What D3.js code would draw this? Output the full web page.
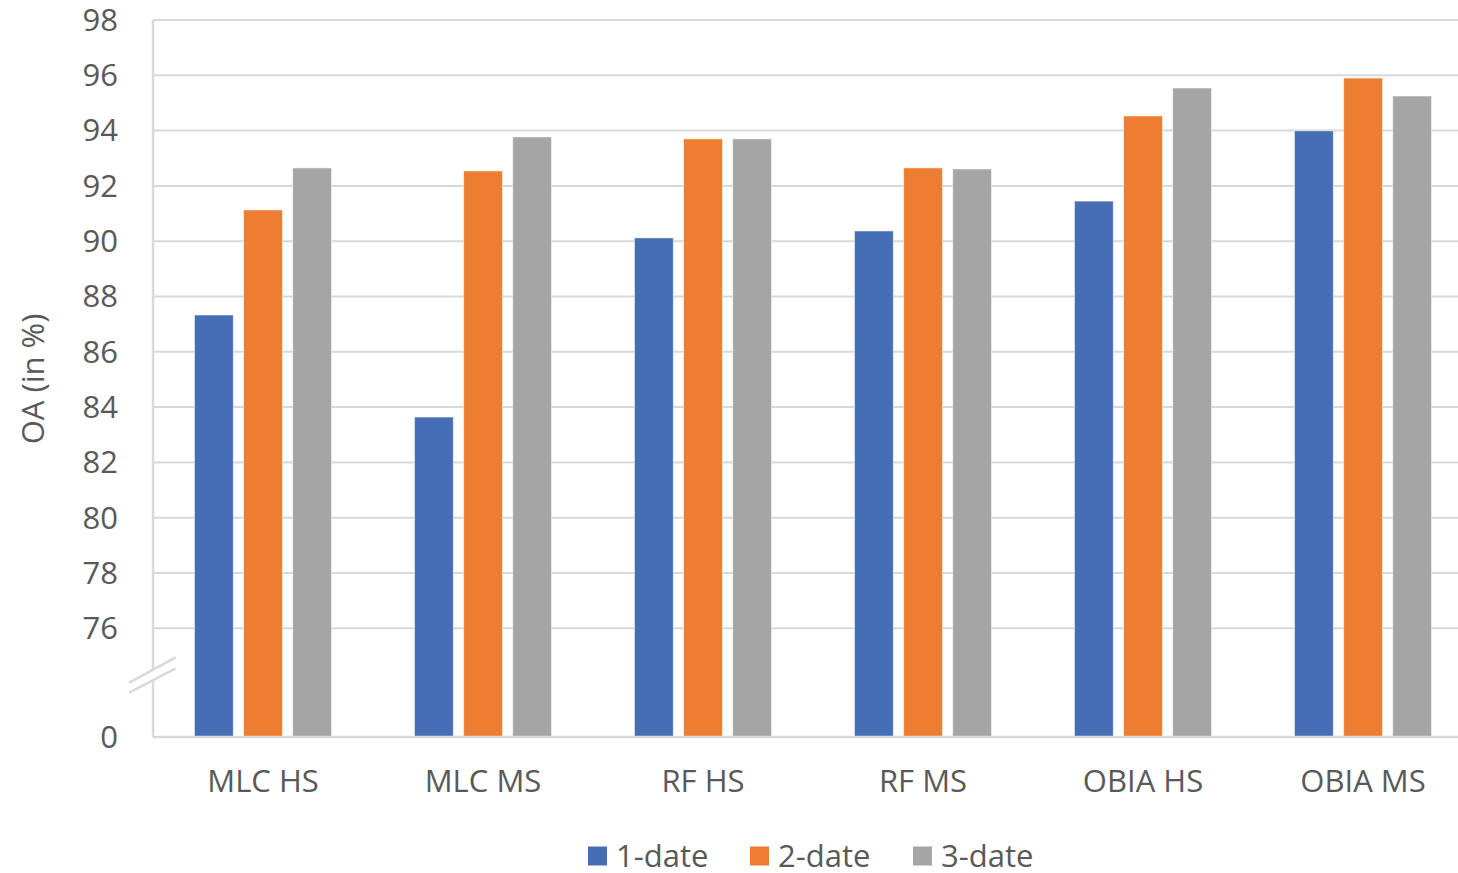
<!DOCTYPE html>
<html>
<head>
<meta charset="utf-8">
<script src="https://cdn.jsdelivr.net/npm/d3@7"></script>
<style>
  html, body { margin: 0; padding: 0; background: #fff; overflow: hidden; }
  svg { display: block; font-family: "Open Sans", sans-serif; }
</style>
</head>
<body>
<svg id="chart" width="1458" height="873"></svg>
<script>
// Overall accuracy per classifier / sensor combination
const categories = ["MLC HS", "MLC MS", "RF HS", "RF MS", "OBIA HS", "OBIA MS"];
const seriesNames = ["1-date", "2-date", "3-date"];
const oneDate   = [87.33, 83.64, 90.12, 90.37, 91.45, 93.99];
const twoDate   = [91.13, 92.54, 93.70, 92.65, 94.53, 95.90];
const threeDate = [92.65, 93.77, 93.70, 92.61, 95.54, 95.25];
const colors = ["#466EB4", "#ED7D31", "#A5A5A5"];
const yTicks = [0, 76, 78, 80, 82, 84, 86, 88, 90, 92, 94, 96, 98];

const seriesValues = [oneDate, twoDate, threeDate];
const svg = d3.select("#chart");
const gridColor = "#d9d9d9";
const textColor = "#595959";
const fontSize = 31;

// Broken value axis: 0 sits just below the 76–98 segment
const y = d3.scaleLinear().domain([0, 76, 98]).range([737, 628.3, 20]);
const left = 153, bandW = 220;
const x0 = d3.scaleBand().domain(categories).range([left, left + bandW * categories.length]);
const x1 = d3.scaleBand().domain(seriesNames).range([41.5, 178.5]).paddingInner(0.21);

// Horizontal gridlines for the upper segment
svg.append("g")
  .selectAll("line")
  .data(yTicks.filter(t => t > 0))
  .join("line")
  .attr("x1", left).attr("x2", 1458)
  .attr("y1", d => y(d)).attr("y2", d => y(d))
  .attr("stroke", gridColor).attr("stroke-width", 2);

// Bars
const groups = svg.append("g")
  .selectAll("g")
  .data(categories)
  .join("g")
  .attr("transform", d => `translate(${x0(d)},0)`);

groups.selectAll("rect")
  .data((c, i) => seriesNames.map((s, k) => ({ s, v: seriesValues[k][i], k })))
  .join("rect")
  .attr("x", d => x1(d.s))
  .attr("width", x1.bandwidth())
  .attr("y", d => y(d.v))
  .attr("height", d => y(0) - y(d.v))
  .attr("fill", d => colors[d.k])
  .attr("stroke", "rgba(255,255,255,0.5)")
  .attr("stroke-width", 1);

// Axis lines
svg.append("line")
  .attr("x1", left).attr("x2", left)
  .attr("y1", y(98)).attr("y2", y(0))
  .attr("stroke", gridColor).attr("stroke-width", 2.5);
svg.append("line")
  .attr("x1", left).attr("x2", 1458)
  .attr("y1", y(0)).attr("y2", y(0))
  .attr("stroke", gridColor).attr("stroke-width", 2.5);

// Axis break marker
const brk = [[129.3, 682.7], [175.7, 657.3], [175.7, 668.3], [129.3, 692.7]];
svg.append("polygon")
  .attr("points", brk.map(p => p.join(",")).join(" "))
  .attr("fill", "#fff");
svg.append("line")
  .attr("x1", brk[0][0]).attr("y1", brk[0][1]).attr("x2", brk[1][0]).attr("y2", brk[1][1])
  .attr("stroke", gridColor).attr("stroke-width", 2.5);
svg.append("line")
  .attr("x1", brk[3][0]).attr("y1", brk[3][1]).attr("x2", brk[2][0]).attr("y2", brk[2][1])
  .attr("stroke", gridColor).attr("stroke-width", 2.5);

// Tick labels
svg.append("g")
  .selectAll("text")
  .data(yTicks)
  .join("text")
  .attr("x", 118)
  .attr("y", d => y(d))
  .attr("dy", "0.35em")
  .attr("text-anchor", "end")
  .attr("fill", textColor)
  .attr("font-size", fontSize)
  .text(d => d);

// Category labels
svg.append("g")
  .selectAll("text")
  .data(categories)
  .join("text")
  .attr("x", d => x0(d) + x0.bandwidth() / 2)
  .attr("y", 781)
  .attr("dy", "0.35em")
  .attr("text-anchor", "middle")
  .attr("fill", textColor)
  .attr("font-size", fontSize)
  .text(d => d);

// Value axis title
svg.append("text")
  .attr("transform", "translate(33,379) rotate(-90)")
  .attr("dy", "0.35em")
  .attr("text-anchor", "middle")
  .attr("fill", textColor)
  .attr("font-size", fontSize)
  .text("OA (in %)");

// Legend
const legendX = [588, 750, 913];
const legend = svg.append("g")
  .selectAll("g")
  .data(seriesNames)
  .join("g")
  .attr("transform", (d, i) => `translate(${legendX[i]},856)`);
legend.append("rect")
  .attr("x", 0).attr("y", -9.5)
  .attr("width", 19).attr("height", 19)
  .attr("fill", (d, i) => colors[i]);
legend.append("text")
  .attr("x", 28).attr("dy", "0.35em")
  .attr("fill", textColor)
  .attr("font-size", fontSize)
  .text(d => d);
</script>
</body>
</html>
